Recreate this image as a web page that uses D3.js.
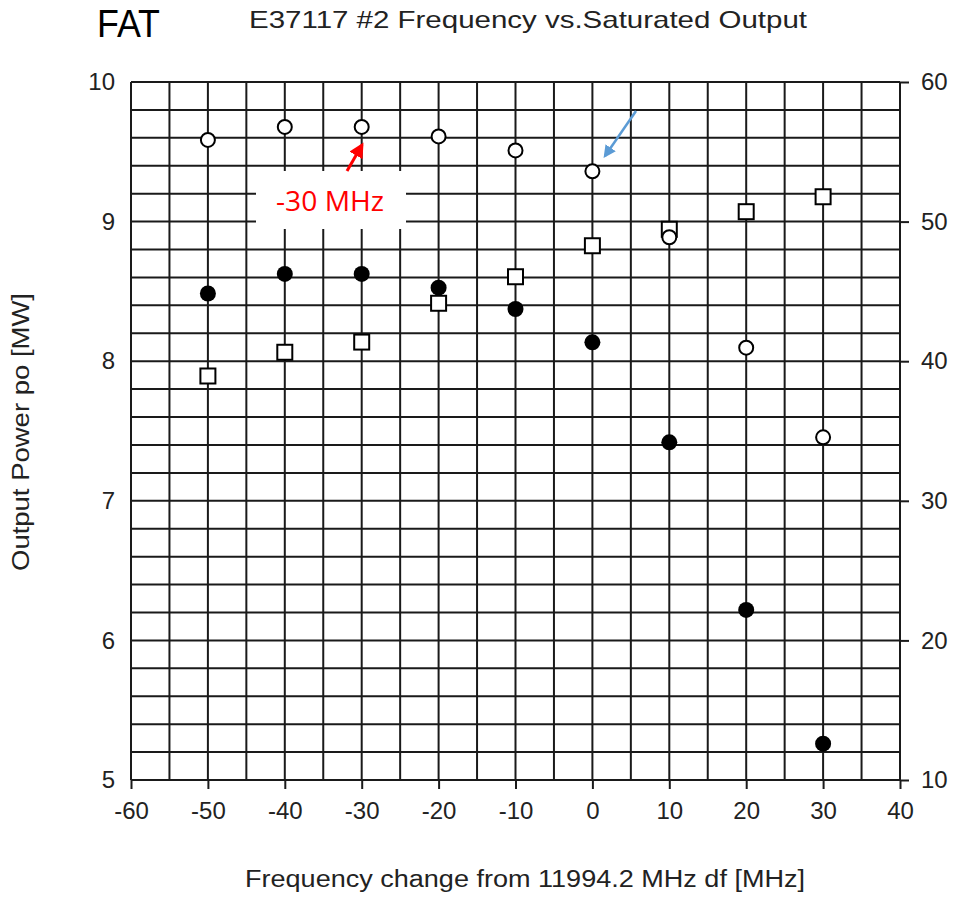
<!DOCTYPE html>
<meta charset="utf-8">
<style>
  body { margin: 0; background: #fff; }
  .tick-label { font-family: "Liberation Sans", Arial, sans-serif; font-size: 24px; fill: #222; }
  .axis-title { font-family: "Liberation Sans", Arial, sans-serif; font-size: 23px; fill: #222; }
  .grid line { stroke: #1a1a1a; stroke-width: 2; }
</style>
<script src="https://d3js.org/d3.v7.min.js"></script>
<div id="chart"></div>
<script>
  // frequency offsets (MHz)
  const freq = [-50, -40, -30, -20, -10, 0, 10, 20, 30];
  // open circles, left axis [MW]
  const openCircle = [9.585, 9.678, 9.678, 9.61, 9.51, 9.36, 8.888, 8.097, 7.455];
  // filled circles, left axis [MW]
  const filledCircle = [8.485, 8.625, 8.625, 8.527, 8.374, 8.135, 7.419, 6.218, 5.26];
  // open squares, right axis
  const openSquare = [38.94, 40.64, 41.37, 44.15, 46.05, 48.27, 49.45, 50.71, 51.78];

  const xTicks = [-60, -50, -40, -30, -20, -10, 0, 10, 20, 30, 40];
  const yLeftTicks = [5, 6, 7, 8, 9, 10];
  const yRightTicks = [10, 20, 30, 40, 50, 60];

  const W = 958, H = 897;
  const plot = {left: 131, right: 900, top: 82, bottom: 780};

  const svg = d3.select("#chart").append("svg")
      .attr("width", W).attr("height", H);

  const x = d3.scaleLinear().domain([-60, 40]).range([plot.left, plot.right]);
  const y = d3.scaleLinear().domain([5, 10]).range([plot.bottom, plot.top]);
  const y2 = d3.scaleLinear().domain([10, 60]).range([plot.bottom, plot.top]);

  const plain = d => String(d);   // hyphen minus like the original

  // grid: every 5 MHz and every 0.2 MW
  const grid = svg.append("g").attr("class", "grid");
  grid.selectAll(".vx")
    .data(x.ticks(20))
    .join("line")
      .attr("x1", d => x(d)).attr("x2", d => x(d))
      .attr("y1", plot.top).attr("y2", plot.bottom);
  grid.selectAll(".hy")
    .data(y.ticks(25))
    .join("line")
      .attr("x1", plot.left).attr("x2", plot.right)
      .attr("y1", d => y(d)).attr("y2", d => y(d));

  function styleAxis(g) {
    g.select(".domain").remove();
    g.selectAll("line").attr("stroke", "#1a1a1a").attr("stroke-width", 2);
    g.selectAll("text").attr("class", "tick-label").attr("fill", null);
    g.attr("font-size", null).attr("font-family", null);
  }

  // bottom axis ticks + labels
  svg.append("g")
    .attr("transform", `translate(0, ${plot.bottom})`)
    .call(d3.axisBottom(x).tickValues(xTicks).tickFormat(plain).tickSize(9).tickSizeOuter(0).tickPadding(13))
    .call(styleAxis);

  // left axis labels
  svg.append("g")
    .attr("transform", `translate(${plot.left}, 0)`)
    .call(d3.axisLeft(y).tickValues(yLeftTicks).tickFormat(plain).tickSize(0).tickPadding(16))
    .call(styleAxis);

  // right axis ticks + labels
  svg.append("g")
    .attr("transform", `translate(${plot.right}, 0)`)
    .call(d3.axisRight(y2).tickValues(yRightTicks).tickFormat(plain).tickSize(9).tickPadding(12))
    .call(styleAxis);

  // markers
  const marks = svg.append("g");
  marks.selectAll(".sq")
    .data(freq.map((f, i) => [f, openSquare[i]]))
    .join("rect")
      .attr("x", d => x(d[0]) - 7.5).attr("y", d => y2(d[1]) - 7.5)
      .attr("width", 15).attr("height", 15)
      .attr("fill", "#fff").attr("stroke", "#000").attr("stroke-width", 2);
  marks.selectAll(".oc")
    .data(freq.map((f, i) => [f, openCircle[i]]))
    .join("circle")
      .attr("cx", d => x(d[0])).attr("cy", d => y(d[1])).attr("r", 7)
      .attr("fill", "#fff").attr("stroke", "#000").attr("stroke-width", 2);
  marks.selectAll(".fc")
    .data(freq.map((f, i) => [f, filledCircle[i]]))
    .join("circle")
      .attr("cx", d => x(d[0])).attr("cy", d => y(d[1])).attr("r", 8)
      .attr("fill", "#000");

  // titles
  svg.append("text").attr("class", "axis-title")
    .attr("x", 528).attr("y", 28).attr("text-anchor", "middle")
    .style("font-size", "24px")
    .attr("textLength", 558).attr("lengthAdjust", "spacingAndGlyphs")
    .text("E37117 #2 Frequency vs.Saturated Output");
  svg.append("text")
    .attr("x", 97).attr("y", 37)
    .style("font-family", "'Liberation Sans Narrow', 'Liberation Sans', sans-serif")
    .style("font-size", "39px").attr("fill", "#000")
    .attr("textLength", 63).attr("lengthAdjust", "spacingAndGlyphs")
    .text("FAT");
  svg.append("text").attr("class", "axis-title")
    .attr("x", 525).attr("y", 887).attr("text-anchor", "middle")
    .attr("textLength", 560).attr("lengthAdjust", "spacingAndGlyphs")
    .text("Frequency change from 11994.2 MHz df [MHz]");
  svg.append("text").attr("class", "axis-title")
    .attr("transform", "translate(29, 432) rotate(-90)")
    .attr("text-anchor", "middle")
    .attr("textLength", 278).attr("lengthAdjust", "spacingAndGlyphs")
    .text("Output Power po [MW]");

  // annotation: -30 MHz
  svg.append("rect")
    .attr("x", 256).attr("y", 171).attr("width", 150).attr("height", 58)
    .attr("fill", "#fff");
  svg.append("text")
    .attr("x", 276).attr("y", 211)
    .style("font-family", "'Open Sans', 'Noto Sans', sans-serif")
    .style("font-size", "28px").attr("fill", "#ff0000")
    .attr("textLength", 108).attr("lengthAdjust", "spacingAndGlyphs")
    .text("-30 MHz");

  const defs = svg.append("defs");
  function arrowHead(id, color) {
    defs.append("marker")
      .attr("id", id).attr("viewBox", "0 0 10 10")
      .attr("refX", 8).attr("refY", 5)
      .attr("markerWidth", 5).attr("markerHeight", 5)
      .attr("orient", "auto")
      .append("path").attr("d", "M0,0 L10,5 L0,10 z").attr("fill", color);
  }
  arrowHead("redHead", "#ff0000");
  arrowHead("blueHead", "#5b9bd5");

  svg.append("line")
    .attr("x1", 347).attr("y1", 171).attr("x2", 362).attr("y2", 145)
    .attr("stroke", "#ff0000").attr("stroke-width", 3)
    .attr("marker-end", "url(#redHead)");
  svg.append("line")
    .attr("x1", 636).attr("y1", 111).attr("x2", 605).attr("y2", 156)
    .attr("stroke", "#5b9bd5").attr("stroke-width", 2.5)
    .attr("marker-end", "url(#blueHead)");
</script>
